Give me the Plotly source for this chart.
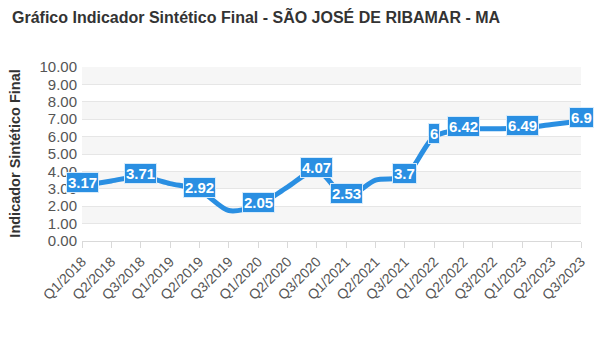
import plotly.graph_objects as go

categories = ["Q1/2018", "Q2/2018", "Q3/2018", "Q1/2019", "Q2/2019", "Q3/2019",
              "Q1/2020", "Q2/2020", "Q3/2020", "Q1/2021", "Q2/2021", "Q3/2021",
              "Q1/2022", "Q2/2022", "Q3/2022", "Q1/2023", "Q2/2023", "Q3/2023"]
values = [3.17, 3.45, 3.71, 3.3, 2.92, 1.75, 2.05, 3.1, 4.07, 2.53, 3.5, 3.7,
          6, 6.42, 6.45, 6.49, 6.7, 6.9]
label_texts = ["3.17", "3.45", "3.71", "3.3", "2.92", "1.75", "2.05", "3.1", "4.07",
               "2.53", "3.5", "3.7", "6", "6.42", "6.45", "6.49", "6.7", "6.9"]
# labels hidden in the original because they overlap their neighbours
label_visible = [True, False, True, False, True, False, True, False, True,
                 True, False, True, True, True, False, True, False, True]
y_ticks = [0, 1, 2, 3, 4, 5, 6, 7, 8, 9, 10]
y_tick_labels = ["0.00", "1.00", "2.00", "3.00", "4.00", "5.00", "6.00", "7.00",
                 "8.00", "9.00", "10.00"]

BLUE = "#2a8fe2"
FONT = "Liberation Sans, Arial, sans-serif"

fig = go.Figure()
fig.add_trace(go.Scatter(
    x=categories, y=values, mode="lines",
    line=dict(color=BLUE, width=5, shape="spline", smoothing=0.8),
    hoverinfo="x+y", showlegend=False,
))

# alternating faint bands
shapes = []
for lo in range(1, 10, 2):
    shapes.append(dict(type="rect", xref="paper", yref="y", x0=0, x1=1,
                       y0=lo, y1=lo + 1, fillcolor="#f6f6f6",
                       line=dict(width=0), layer="below"))

annotations = []
for c, v, t, show in zip(categories, values, label_texts, label_visible):
    if show:
        annotations.append(dict(
            x=c, y=v, xref="x", yref="y", text="<b>" + t + "</b>",
            showarrow=False, yshift=3,
            font=dict(family=FONT, size=15, color="white"),
            bgcolor=BLUE, bordercolor="#d6ebfb", borderwidth=1, borderpad=1,
        ))

annotations.append(dict(
    x=-0.135, y=0.5, xref="paper", yref="paper", text="<b>Indicador Sintético Final</b>",
    textangle=-90, showarrow=False, xanchor="center", yanchor="middle",
    font=dict(family=FONT, size=14.5, color="#333333"),
))

fig.update_layout(
    width=600, height=354,
    margin=dict(l=82, r=14, t=67, b=112.5),
    paper_bgcolor="white", plot_bgcolor="white",
    title=dict(text="<b>Gráfico Indicador Sintético Final - SÃO JOSÉ DE RIBAMAR - MA</b>",
               x=0.02, xref="container", xanchor="left",
               y=1 - 17 / 354, yref="container", yanchor="middle",
               font=dict(family=FONT, size=16, color="#333333")),
    shapes=shapes,
    annotations=annotations,
    xaxis=dict(
        type="category", tickangle=-45, showgrid=False,
        ticks="outside", ticklen=6, tickcolor="#d9d9d9",
        showline=True, linecolor="#d9d9d9", linewidth=1,
        tickfont=dict(family=FONT, size=14, color="#555555"),
        range=[0, len(categories) - 1], zeroline=False,
    ),
    yaxis=dict(
        range=[0, 10], tickvals=y_ticks, ticktext=y_tick_labels,
        showgrid=True, gridcolor="#e6e6e6", gridwidth=1, zeroline=False,
        tickfont=dict(family=FONT, size=15, color="#555555"),
        ticks="", ticklabelstandoff=4,
    ),
)

fig.write_html("out.html")
